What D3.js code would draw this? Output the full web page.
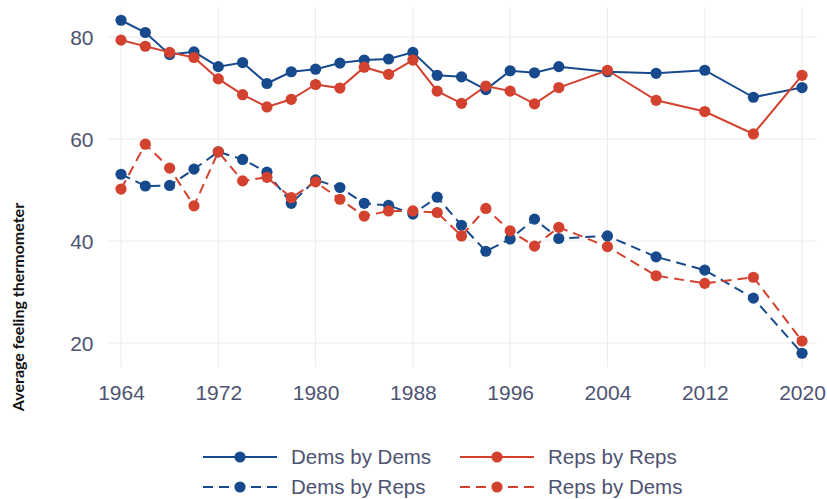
<!DOCTYPE html>
<html>
<head>
<meta charset="utf-8">
<script src="https://cdn.jsdelivr.net/npm/d3@7"></script>
<style>
  body { margin: 0; background: #ffffff; }
  svg { display: block; }
</style>
</head>
<body>
<svg id="chart" width="827" height="499"></svg>
<script>
const years = [1964, 1966, 1968, 1970, 1972, 1974, 1976, 1978, 1980, 1982, 1984, 1986,
               1988, 1990, 1992, 1994, 1996, 1998, 2000, 2004, 2008, 2012, 2016, 2020];
const demsByDems = [83.3, 80.9, 76.6, 77.1, 74.2, 75.0, 70.9, 73.2, 73.7, 74.9, 75.5, 75.7,
                    77.0, 72.5, 72.2, 69.7, 73.4, 73.0, 74.2, 73.2, 72.9, 73.5, 68.2, 70.1];
const repsByReps = [79.4, 78.2, 77.0, 76.0, 71.8, 68.7, 66.3, 67.8, 70.7, 70.0, 74.1, 72.7,
                    75.5, 69.4, 67.0, 70.4, 69.4, 66.9, 70.1, 73.5, 67.6, 65.4, 61.0, 72.5];
const demsByReps = [53.1, 50.8, 50.9, 54.1, 57.5, 56.0, 53.5, 47.4, 52.0, 50.5, 47.4, 47.0,
                    45.3, 48.6, 43.1, 38.0, 40.4, 44.3, 40.5, 41.0, 36.9, 34.3, 28.8, 18.0];
const repsByDems = [50.2, 59.0, 54.3, 46.9, 57.5, 51.8, 52.5, 48.5, 51.6, 48.2, 44.9, 45.9,
                    45.9, 45.6, 41.0, 46.4, 42.0, 39.0, 42.7, 38.9, 33.2, 31.7, 32.9, 20.4];
const xTicks = [1964, 1972, 1980, 1988, 1996, 2004, 2012, 2020];
const yTicks = [20, 40, 60, 80];
const seriesNames = ["Dems by Dems", "Reps by Reps", "Dems by Reps", "Reps by Dems"];
const yTitle = "Average feeling thermometer";

const BLUE = "#174a8c", RED = "#d2422f";
const series = [
  { name: seriesNames[0], values: demsByDems, color: BLUE, dash: null },
  { name: seriesNames[1], values: repsByReps, color: RED, dash: null },
  { name: seriesNames[2], values: demsByReps, color: BLUE, dash: "10,6" },
  { name: seriesNames[3], values: repsByDems, color: RED, dash: "10,6" }
];

const svg = d3.select("#chart");
const x = d3.scaleLinear().domain([1962.93, 2021.23]).range([108, 817]);
const y = d3.scaleLinear().domain([15.3, 85.9]).range([367, 7]);
const [x0, x1] = x.range();
const [y0, y1] = y.range();

// grid
const grid = svg.append("g").attr("stroke", "#ebebeb").attr("stroke-width", 1);
grid.selectAll("line.v").data(xTicks).join("line")
  .attr("x1", d => x(d)).attr("x2", d => x(d)).attr("y1", y1).attr("y2", y0);
grid.selectAll("line.h").data(yTicks).join("line")
  .attr("x1", x0).attr("x2", x1).attr("y1", d => y(d)).attr("y2", d => y(d));

// axes
const tickColor = "#4d5372";
const font = "'Liberation Sans', Arial, Helvetica, sans-serif";
const xAxis = svg.append("g").attr("transform", `translate(0,${y0})`)
  .call(d3.axisBottom(x).tickValues(xTicks).tickFormat(d3.format("d")).tickSize(0));
xAxis.select(".domain").remove();
xAxis.selectAll("text").attr("y", 33).attr("dy", 0)
  .attr("fill", tickColor).style("font-family", font).style("font-size", "21px");

const yAxis = svg.append("g").attr("transform", `translate(${x0},0)`)
  .call(d3.axisLeft(y).tickValues(yTicks).tickSize(0));
yAxis.select(".domain").remove();
yAxis.selectAll("text").attr("x", -14.5).attr("dy", "0.36em")
  .attr("fill", tickColor).style("font-family", font).style("font-size", "21px");

// y title
svg.append("text")
  .attr("transform", "translate(24,307) rotate(-90)")
  .attr("text-anchor", "middle")
  .style("font-family", "Lato, 'Open Sans', sans-serif")
  .style("font-weight", "bold")
  .style("font-size", "16px")
  .attr("fill", "#111")
  .text(yTitle);

// lines
const line = d3.line().x((d, i) => x(years[i])).y(d => y(d));
const plot = svg.append("g");
series.forEach(s => {
  plot.append("path")
    .datum(s.values)
    .attr("fill", "none")
    .attr("stroke", s.color)
    .attr("stroke-width", 2)
    .attr("stroke-dasharray", s.dash)
    .attr("d", line);
});
series.forEach(s => {
  plot.append("g").selectAll("circle").data(s.values).join("circle")
    .attr("cx", (d, i) => x(years[i]))
    .attr("cy", d => y(d))
    .attr("r", 5.6)
    .attr("fill", s.color);
});

// legend
const legendPos = [
  { lx: 203, ty: 457 }, { lx: 460, ty: 457 },
  { lx: 203, ty: 487 }, { lx: 460, ty: 487 }
];
const legend = svg.append("g");
series.forEach((s, i) => {
  const p = legendPos[i];
  const g = legend.append("g").attr("transform", `translate(${p.lx},${p.ty})`);
  g.append("line").attr("x1", 0).attr("x2", 74).attr("y1", 0).attr("y2", 0)
    .attr("stroke", s.color).attr("stroke-width", 2).attr("stroke-dasharray", s.dash);
  g.append("circle").attr("cx", 37).attr("cy", 0).attr("r", 5.6).attr("fill", s.color);
  g.append("text").attr("x", 88).attr("y", 0).attr("dy", "0.36em")
    .attr("fill", tickColor)
    .style("font-family", font)
    .style("font-size", "20.5px")
    .text(s.name);
});
</script>
</body>
</html>
